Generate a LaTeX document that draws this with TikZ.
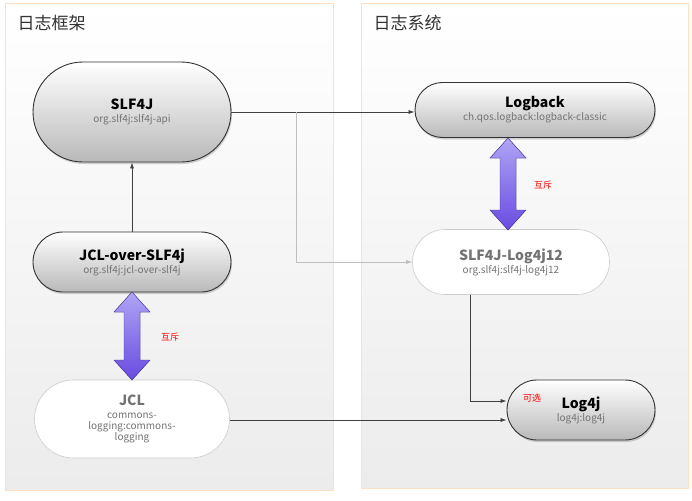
\documentclass[tikz,border=0pt]{standalone}
\usepackage{fontspec}
\setmainfont{Noto Sans CJK SC}
\usetikzlibrary{shapes.misc,arrows.meta,shadows}
\definecolor{ptop}{RGB}{175,165,245}
\definecolor{pbot}{RGB}{105,75,225}
\newcommand{\hd}[1]{{\fontsize{14}{17}\selectfont\bfseries #1}}
\newcommand{\subt}[1]{{\fontsize{10}{12}\selectfont\textcolor{gray!90!black}{#1}}}
\begin{document}
\begin{tikzpicture}[x=1pt,y=-1pt,
 panel/.style={draw=orange!25,line width=0.8pt,top color=white,bottom color=gray!15},
 dark/.style={rounded rectangle,draw=black!80,line width=0.9pt,top color=white,bottom color=gray!55,drop shadow={opacity=0.35,shadow xshift=1pt,shadow yshift=-2pt},align=center,inner sep=0pt},
 light/.style={rounded rectangle,draw=gray!40,line width=0.6pt,fill=white,align=center,inner sep=0pt,text=gray!90!black},
 conn/.style={-{Latex[length=6pt,width=4pt]},line width=0.7pt,black!75},
 lab/.style={font=\fontsize{9}{10}\selectfont,text=red},
 ttl/.style={font=\fontsize{17}{20}\selectfont,text=black!80,anchor=west}]
\useasboundingbox (0,0) rectangle (692,500);
\draw[panel] (5,3) rectangle (333,490);
\draw[panel] (361,3) rectangle (688,488);
\node[ttl] (t1) at (14,23) {日志框架};
\node[ttl] (t2) at (370,23) {日志系统};
\node[dark,minimum width=198pt,minimum height=100pt] (slf) at (132,112)
 {\hd{SLF4J}\\[1pt]\subt{org.slf4j:slf4j-api}};
\node[dark,minimum width=198pt,minimum height=60pt] (jos) at (132,262)
 {\hd{JCL-over-SLF4j}\\[1pt]\subt{org.slf4j:jcl-over-slf4j}};
\node[light,minimum width=195pt,minimum height=78pt] (jcl) at (132,419)
 {\hd{JCL}\\[1pt]\subt{commons-}\\[-1pt]\subt{logging:commons-}\\[-1pt]\subt{logging}};
\node[dark,minimum width=240pt,minimum height=55pt] (lb) at (535,110)
 {\hd{Logback}\\[1pt]\subt{ch.qos.logback:logback-classic}};
\node[light,minimum width=197pt,minimum height=65pt] (sl4) at (511,262)
 {\hd{SLF4J-Log4j12}\\[1pt]\subt{org.slf4j:slf4j-log4j12}};
\node[dark,minimum width=148pt,minimum height=60pt] (l4j) at (581,410)
 {\hd{Log4j}\\[1pt]\subt{log4j:log4j}};
\node[lab] (opt) at (532,398) {可选};
\draw[conn] (jos.north) -- (slf.south);
\draw[conn] (slf.east) -- (lb.west |- slf.east);
\coordinate (br) at (296,112);
\draw[conn,gray!50,line width=0.6pt] (br) |- (sl4.west);
\coordinate (dn) at (470,295);
\draw[conn] (dn) |- (l4j.west |- 0,401);
\draw[conn] (jcl.east |- 0,420) -- (l4j.west |- 0,420);
\foreach \cx/\ya/\yb in {132/292/380, 508/138/230}{
 \fill[top color=ptop,bottom color=pbot,draw=pbot!70!black,line width=0.4pt]
  (\cx,\ya) -- (\cx+18,\ya+20) -- (\cx+8,\ya+20) -- (\cx+8,\yb-20) -- (\cx+18,\yb-20) -- (\cx,\yb)
  -- (\cx-18,\yb-20) -- (\cx-8,\yb-20) -- (\cx-8,\ya+20) -- (\cx-18,\ya+20) -- cycle;
}
\node[lab] (mx1) at (170,337) {互斥};
\node[lab] (mx2) at (543,185) {互斥};
\end{tikzpicture}
\end{document}
